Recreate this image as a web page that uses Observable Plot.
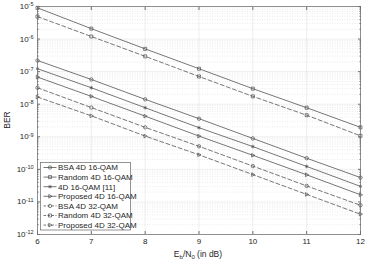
<!DOCTYPE html>
<html><head><meta charset="utf-8">
<script src="https://cdn.jsdelivr.net/npm/d3@7"></script>
<script src="https://cdn.jsdelivr.net/npm/@observablehq/plot@0.6"></script>
<style>
body{margin:0;background:#fff;}
#wrap{position:relative;width:377px;height:265px;}
</style></head><body><div id="wrap"></div>
<script>
// ---- data ----
const ebn0 = [6, 7, 8, 9, 10, 11, 12];
const seriesNames = ["BSA 4D 16-QAM", "Random 4D 16-QAM", "4D 16-QAM [11]", "Proposed 4D 16-QAM",
  "BSA 4D 32-QAM", "Random 4D 32-QAM", "Proposed 4D 32-QAM"];
const berBSA16 = [2.2e-7, 5.75e-8, 1.41e-8, 3.6e-9, 8.9e-10, 2.2e-10, 5.6e-11];
const berRandom16 = [9.1e-6, 2.09e-6, 5.0e-7, 1.23e-7, 3.0e-8, 7.8e-9, 1.95e-9];
const berRef11 = [1.23e-7, 3.2e-8, 7.8e-9, 1.9e-9, 5.0e-10, 1.23e-10, 3.0e-11];
const berProposed16 = [6.8e-8, 1.74e-8, 4.3e-9, 1.05e-9, 2.7e-10, 6.8e-11, 1.66e-11];
const berBSA32 = [3.2e-8, 7.9e-9, 1.95e-9, 5.1e-10, 1.26e-10, 3.1e-11, 7.9e-12];
const berRandom32 = [4.9e-6, 1.2e-6, 2.95e-7, 7.1e-8, 1.74e-8, 4.6e-9, 1.07e-9];
const berProposed32 = [1.66e-8, 4.4e-9, 1.05e-9, 2.8e-10, 6.9e-11, 1.7e-11, 4.2e-12];
const seriesValues = [berBSA16, berRandom16, berRef11, berProposed16, berBSA32, berRandom32, berProposed32];
const seriesDashed = [false, false, false, false, true, true, true];
const seriesMarkers = ["circle", "square", "asterisk", "triright", "circle", "square", "triright"];
const xTicks = [6, 7, 8, 9, 10, 11, 12];
const yExponents = [-12, -11, -10, -9, -8, -7, -6, -5];
const yMinorMultipliers = [2, 3, 4, 5, 6, 7, 8, 9];

// ---- build ----
const yDecades = yExponents.map(e => Math.pow(10, e));
const yMinor = yExponents.slice(0, -1).flatMap(e => yMinorMultipliers.map(m => m * Math.pow(10, e)));
const rows = seriesNames.flatMap((name, k) => ebn0.map((x, i) => ({
  x, y: seriesValues[k][i], name, dashed: seriesDashed[k], marker: seriesMarkers[k]
})));
const triRight = {
  draw(ctx, size) {
    const r = Math.sqrt(size / Math.PI) * 1.2;
    ctx.moveTo(r, 0); ctx.lineTo(-r * 0.6, -r * 0.9); ctx.lineTo(-r * 0.6, r * 0.9); ctx.closePath();
  }
};
const symFor = m => m === "triright" ? triRight : m;
const lineColor = "#4a4a4a";
const font = "'Liberation Sans', Arial, sans-serif";

const dotMarks = [...new Set(seriesMarkers)].map(m =>
  Plot.dot(rows.filter(d => d.marker === m), {x: "x", y: "y", symbol: symFor(m), r: 1.7, stroke: lineColor, strokeWidth: 0.7, fill: "none"}));

const chart = Plot.plot({
  width: 377, height: 265,
  marginLeft: 37, marginRight: 17, marginTop: 6, marginBottom: 31,
  style: {fontFamily: font, fontSize: "8px", color: "#262626", background: "#fff"},
  x: {domain: [6, 12], label: null},
  y: {type: "log", domain: [1e-12, 1e-5], label: null},
  marks: [
    Plot.ruleY(yMinor, {stroke: "#d6d6d6", strokeWidth: 0.5, strokeDasharray: "1,1.5"}),
    Plot.ruleX(xTicks, {stroke: "#e2e2e2", strokeWidth: 0.6}),
    Plot.ruleY(yDecades, {stroke: "#e2e2e2", strokeWidth: 0.6}),
    Plot.line(rows.filter(d => !d.dashed), {x: "x", y: "y", z: "name", stroke: lineColor, strokeWidth: 0.75}),
    Plot.line(rows.filter(d => d.dashed), {x: "x", y: "y", z: "name", stroke: lineColor, strokeWidth: 0.75, strokeDasharray: "4,2.5"}),
    ...dotMarks,
    Plot.frame({stroke: "#707070", strokeWidth: 0.75}),
    Plot.axisX({ticks: xTicks, tickSize: -3, tickPadding: 7, label: null, stroke: "#707070", tickFormat: d => String(d)}),
    Plot.axisX({anchor: "top", ticks: xTicks, tickSize: -3, tickFormat: () => "", label: null, stroke: "#707070"}),
    Plot.axisY({ticks: yDecades, tickSize: -3, tickPadding: 7, label: null, stroke: "#707070",
      tickFormat: d => "10^" + Math.round(Math.log10(d))}),
    Plot.axisY({anchor: "right", ticks: yDecades, tickSize: -3, tickFormat: () => "", label: null, stroke: "#707070"}),
    Plot.axisY({anchor: "right", ticks: yMinor, tickSize: -1.5, tickFormat: () => "", label: null, stroke: "#707070"}),
    Plot.axisY({anchor: "left", ticks: yMinor, tickSize: -1.5, tickFormat: () => "", label: null, stroke: "#707070"})
  ]
});
document.getElementById("wrap").appendChild(chart);

// superscript exponents on the y tick labels
const svg = d3.select(chart);
svg.selectAll('g[aria-label="y-axis tick label"] text').each(function () {
  const t = d3.select(this);
  const s = this.textContent;
  const m = s.match(/^10\^(-?\d+)$/);
  if (!m) return;
  t.text(null);
  t.append("tspan").text("10");
  t.append("tspan").attr("dy", "-0.5em").attr("font-size", "5.5px").text(m[1]);
});

// axis titles
svg.append("text").attr("transform", "translate(10,120) rotate(-90)").attr("text-anchor", "middle")
  .attr("font-family", font).attr("font-size", "8.5px").attr("fill", "#262626").text("BER");
const xl = svg.append("text").attr("x", 198).attr("y", 257).attr("text-anchor", "middle")
  .attr("font-family", font).attr("font-size", "8.5px").attr("fill", "#262626");
xl.append("tspan").text("E");
xl.append("tspan").attr("font-size", "6px").attr("dy", "2").text("b");
xl.append("tspan").attr("dy", "-2").text("/N");
xl.append("tspan").attr("font-size", "6px").attr("dy", "2").text("0");
xl.append("tspan").attr("dy", "-2").text(" (in dB)");

// legend
const lg = svg.append("g").attr("transform", "translate(40.5,162.5)").attr("text-anchor", "start");
lg.append("rect").attr("width", 90).attr("height", 67.5).attr("fill", "#fff").attr("stroke", "#707070").attr("stroke-width", 0.75);
const d3sym = {circle: d3.symbolCircle, square: d3.symbolSquare, asterisk: d3.symbolAsterisk, triright: triRight};
seriesNames.forEach((name, k) => {
  const yy = 5 + k * 9.6;
  lg.append("line").attr("x1", 3).attr("x2", 16).attr("y1", yy).attr("y2", yy)
    .attr("stroke", lineColor).attr("stroke-width", 0.75)
    .attr("stroke-dasharray", seriesDashed[k] ? "2.5,1.5" : null);
  lg.append("path").attr("transform", `translate(9.5,${yy})`)
    .attr("d", d3.symbol(d3sym[seriesMarkers[k]], 1.7 * 1.7 * Math.PI)())
    .attr("fill", "none").attr("stroke", lineColor).attr("stroke-width", 0.7);
  lg.append("text").attr("x", 17.5).attr("y", yy).attr("dy", "0.35em").attr("text-anchor", "start")
    .attr("font-family", font).attr("font-size", "8px").attr("fill", "#262626").text(name);
});
</script></body></html>
